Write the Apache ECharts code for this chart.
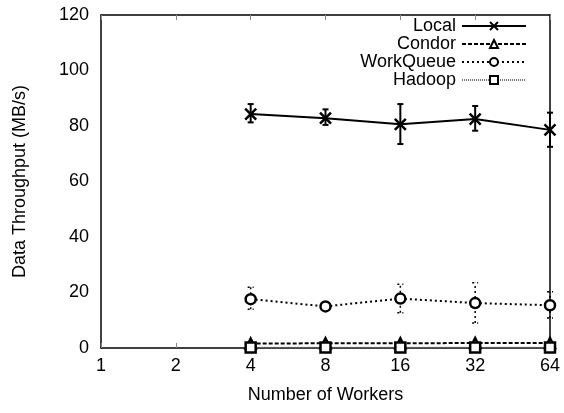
<!DOCTYPE html>
<html>
<head>
<meta charset="utf-8">
<script src="https://cdn.jsdelivr.net/npm/echarts@6/dist/echarts.min.js"></script>
<style>
  html, body { margin: 0; padding: 0; background: #fff; }
  #chart { width: 564px; height: 413px; }
</style>
</head>
<body>
<div id="chart"></div>
<script>
// x categories (log2 spaced number of workers)
const workers = ['1', '2', '4', '8', '16', '32', '64'];
const yTicks = [0, 20, 40, 60, 80, 100, 120];

// throughput means (MB/s), null where no run
const local     = [null, null, 84.3, 82.8, 80.6, 82.5, 78.6];
const condor    = [null, null, 1.6, 1.7, 1.7, 1.8, 1.8];
const workQueue = [null, null, 17.6, 15.0, 17.8, 16.2, 15.4];
const hadoop    = [null, null, 0.2, 0.2, 0.2, 0.2, 0.2];

// error bar ranges [low, high]
const localErr = [null, null, [81.3, 87.9], [80.4, 86.0], [73.5, 87.9], [78.3, 87.2], [72.5, 84.8]];
const wqErr    = [null, null, [14.0, 21.9], [14.2, 15.9], [12.7, 23.0], [9.0, 23.5], [10.8, 20.3]];

const font = 'Liberation Sans, Arial, sans-serif';

const errSeries = (name, ranges, dashed) => ({
    name: name,
    type: 'custom',
    silent: true,
    z: 1,
    data: ranges.map((r, i) => r ? [i, r[0], r[1]] : null).filter(d => d),
    renderItem: (params, api) => {
        const lo = api.coord([api.value(0), api.value(1)]);
        const hi = api.coord([api.value(0), api.value(2)]);
        const cap = 3;
        const style = { stroke: '#000', lineWidth: dashed ? 1.5 : 2, lineDash: dashed ? [2, 3] : null };
        return {
            type: 'group',
            children: [
                { type: 'line', shape: { x1: lo[0], y1: lo[1], x2: hi[0], y2: hi[1] }, style: style },
                { type: 'line', shape: { x1: lo[0] - cap, y1: lo[1], x2: lo[0] + cap, y2: lo[1] }, style: style },
                { type: 'line', shape: { x1: hi[0] - cap, y1: hi[1], x2: hi[0] + cap, y2: hi[1] }, style: style }
            ]
        };
    }
});

const chart = echarts.init(document.getElementById('chart'), null, { renderer: 'canvas' });

const tick = { inside: true, length: 5, lineStyle: { color: '#888' } };
const frame = { show: true, onZero: false, lineStyle: { color: '#000', width: 1.5 } };

const option = {
    animation: false,
    backgroundColor: '#fff',
    textStyle: { fontFamily: font },
    grid: { left: 101, right: 14, top: 15, bottom: 65 },
    legend: {
        right: 32,
        top: 12,
        orient: 'vertical',
        align: 'right',
        itemWidth: 64,
        itemHeight: 10,
        itemGap: 0,
        textStyle: { fontFamily: font, fontSize: 18, lineHeight: 18, color: '#000', padding: [0, 1, 0, 0] },
        data: ['Local', 'Condor', 'WorkQueue', 'Hadoop']
    },
    xAxis: [
        {
            type: 'category',
            data: workers,
            boundaryGap: false,
            name: 'Number of Workers',
            nameLocation: 'middle',
            nameGap: 38,
            nameTextStyle: { fontSize: 18, color: '#000' },
            axisLine: frame,
            axisTick: tick,
            axisLabel: { fontSize: 18, color: '#000', margin: 9 },
            splitLine: { show: false }
        },
        {
            type: 'category',
            data: workers,
            boundaryGap: false,
            position: 'top',
            axisLine: frame,
            axisTick: tick,
            axisLabel: { show: false }
        }
    ],
    yAxis: [
        {
            type: 'value',
            min: yTicks[0],
            max: yTicks[yTicks.length - 1],
            interval: 20,
            name: 'Data Throughput (MB/s)',
            nameLocation: 'middle',
            nameGap: 72,
            nameTextStyle: { fontSize: 18, color: '#000' },
            axisLine: frame,
            axisTick: tick,
            axisLabel: { fontSize: 18, color: '#000', margin: 12 },
            splitLine: { show: false }
        },
        {
            type: 'value',
            min: yTicks[0],
            max: yTicks[yTicks.length - 1],
            interval: 20,
            position: 'right',
            axisLine: frame,
            axisTick: tick,
            axisLabel: { show: false },
            splitLine: { show: false }
        }
    ],
    series: [
        errSeries('localErr', localErr, false),
        errSeries('wqErr', wqErr, true),
        {
            name: 'Local',
            type: 'line',
            data: local,
            z: 3,
            symbol: 'path://M0,0L10,10M10,0L0,10',
            symbolSize: 11,
            itemStyle: { color: '#000', borderColor: '#000', borderWidth: 2.5 },
            lineStyle: { color: '#000', width: 2 }
        },
        {
            name: 'Condor',
            type: 'line',
            data: condor,
            z: 3,
            symbol: 'triangle',
            symbolSize: 10,
            itemStyle: { color: '#fff', borderColor: '#000', borderWidth: 2.5 },
            lineStyle: { color: '#000', width: 2, type: [4, 2] }
        },
        {
            name: 'WorkQueue',
            type: 'line',
            data: workQueue,
            z: 3,
            symbol: 'circle',
            symbolSize: 10,
            itemStyle: { color: '#fff', borderColor: '#000', borderWidth: 2.5 },
            lineStyle: { color: '#000', width: 2, type: [2, 3] }
        },
        {
            name: 'Hadoop',
            type: 'line',
            data: hadoop,
            z: 3,
            symbol: 'rect',
            symbolSize: 10,
            itemStyle: { color: '#fff', borderColor: '#000', borderWidth: 2.5 },
            lineStyle: { color: '#777', width: 1.5, type: [1, 1] }
        }
    ]
};

chart.setOption(option);
</script>
</body>
</html>
